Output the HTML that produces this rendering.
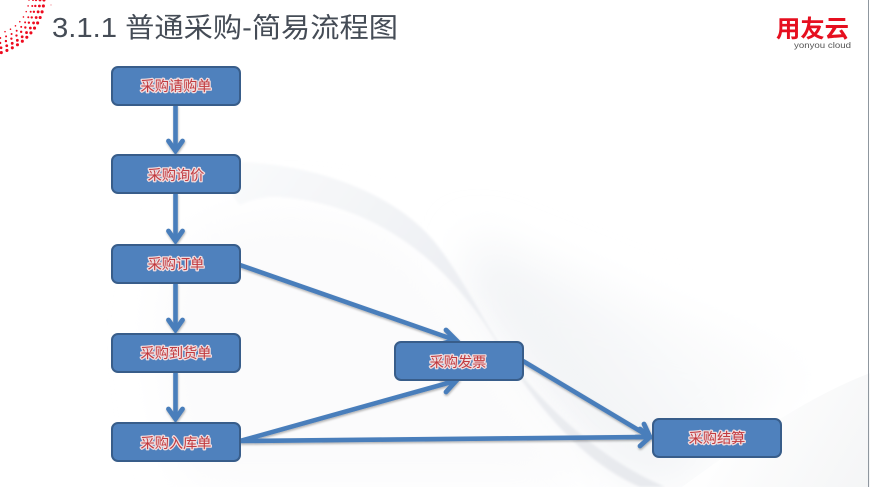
<!DOCTYPE html>
<html lang="zh">
<head>
<meta charset="utf-8">
<title>普通采购-简易流程图</title>
<style>
html,body{margin:0;padding:0;background:#fff}
body{width:870px;height:487px;overflow:hidden}
svg{display:block}
.t{font-family:"Liberation Sans","Noto Sans CJK SC",sans-serif}
.lbl{font-family:"Liberation Sans","Noto Sans CJK SC",sans-serif;font-size:14.2px;fill:#c23b40;text-anchor:middle;paint-order:stroke;stroke:#f0dcde;stroke-width:2.6px;stroke-linejoin:round}
.box{fill:#4f81bd;stroke:#385d8a;stroke-width:2}
.ln{fill:none;stroke:#4a7ebb;stroke-width:4.6;stroke-linecap:butt}
.hd{fill:none;stroke:#4a7ebb;stroke-width:4.8;stroke-linecap:round;stroke-linejoin:miter}
.dot{fill:none;stroke:#ee0a1e;stroke-linecap:round;stroke-dasharray:0 6}
</style>
</head>
<body>
<svg width="870" height="487" viewBox="0 0 870 487" xmlns="http://www.w3.org/2000/svg">
<defs>
<linearGradient id="fade" gradientUnits="userSpaceOnUse" x1="480" y1="340" x2="680" y2="180"><stop offset="0" stop-color="#eff1f4"/><stop offset="0.5" stop-color="#f8f9fa"/><stop offset="1" stop-color="#fff"/></linearGradient>
<linearGradient id="band" gradientUnits="userSpaceOnUse" x1="240" y1="170" x2="620" y2="470"><stop offset="0" stop-color="#f9fafb"/><stop offset="0.55" stop-color="#eceef2"/><stop offset="1" stop-color="#e8eaee"/></linearGradient>
<linearGradient id="corner" gradientUnits="userSpaceOnUse" x1="740" y1="410" x2="870" y2="487"><stop offset="0" stop-color="#fefefe"/><stop offset="1" stop-color="#f4f5f6"/></linearGradient>
<filter id="sh" x="-10%" y="-10%" width="120%" height="130%"><feDropShadow dx="0.5" dy="1.5" stdDeviation="1.1" flood-color="#000" flood-opacity="0.3"/></filter>
<filter id="soft" x="-5%" y="-5%" width="110%" height="110%"><feGaussianBlur stdDeviation="1.2"/></filter>
<filter id="wide" x="-30%" y="-30%" width="160%" height="160%"><feGaussianBlur stdDeviation="22"/></filter>
</defs>
<rect width="870" height="487" fill="#fff"/>
<path d="M470 235C560 270 700 330 830 370C770 400 730 440 690 487H640C570 440 520 370 470 300Z" fill="url(#fade)" filter="url(#wide)"/>
<path d="M170 260C220 200 330 200 400 240C460 290 520 420 610 487H190C160 420 150 320 170 260Z" fill="#fbfbfc" filter="url(#wide)"/>
<path d="M240 162C320 165 395 195 433 240C470 285 490 340 530 385C570 430 615 465 665 487H640C590 465 545 420 497 343C450 265 380 205 280 197C265 196 250 200 240 205C225 190 225 170 240 162Z" fill="url(#band)" filter="url(#soft)"/>
<path d="M682 487C740 445 800 400 870 373V487Z" fill="url(#corner)"/>
<rect x="868" y="0" width="1" height="487" fill="#8f979f"/>

<path class="dot" stroke-width="1.6" d="M29 0C28 16 16 30 0 33"/>
<path class="dot" stroke-width="2" d="M33 0C32 18 20 34 0 38"/>
<path class="dot" stroke-width="2.4" d="M36 0C35 19 23 37 0 43"/>
<path class="dot" stroke-width="2.8" d="M40 0C39 21 26 41 0 48"/>
<path class="dot" stroke-width="3.1" d="M44 0C43 22 28 44 0 53"/>
<circle cx="51" cy="5" r="0.7" fill="#f3a0a8"/>

<text class="t" x="52" y="37" font-size="27.5" fill="#454c56" textLength="346" lengthAdjust="spacingAndGlyphs">3.1.1 普通采购-简易流程图</text>

<text class="t" x="776" y="37" font-size="24" font-weight="700" fill="#e60f1f" textLength="73" lengthAdjust="spacingAndGlyphs">用友云</text>
<text class="t" x="794" y="48" font-size="8.5" fill="#555" textLength="57" lengthAdjust="spacingAndGlyphs">yonyou cloud</text>

<g filter="url(#sh)">
<path class="ln" d="M175.5 105V151"/><path class="hd" d="M168.5 141L175.5 151L182.5 141"/>
<path class="ln" d="M175.5 193V241"/><path class="hd" d="M168.5 231L175.5 241L182.5 231"/>
<path class="ln" d="M175.5 283V330"/><path class="hd" d="M168.5 320L175.5 330L182.5 320"/>
<path class="ln" d="M175.5 372V419"/><path class="hd" d="M168.5 409L175.5 419L182.5 409"/>
<path class="ln" d="M240 265L455 340"/><path class="hd" d="M446 330L456 340L441 344"/>
<path class="ln" d="M240 441L455 381"/><path class="hd" d="M441 378L456 381L446 392"/>
<path class="ln" d="M240 441L650 437"/><path class="hd" d="M640 429L650 437L640 446"/>
<path class="ln" d="M523 361L650 437"/><path class="hd" d="M644 424L650 437L636 437"/>
</g>

<rect class="box" x="112" y="67" width="128" height="38" rx="6"/>
<rect class="box" x="112" y="155" width="128" height="38" rx="6"/>
<rect class="box" x="112" y="245" width="128" height="38" rx="6"/>
<rect class="box" x="112" y="334" width="128" height="38" rx="6"/>
<rect class="box" x="112" y="423" width="128" height="38" rx="6"/>
<rect class="box" x="395" y="342" width="128" height="38" rx="6"/>
<rect class="box" x="653" y="419" width="128" height="38" rx="6"/>

<text class="lbl" x="176" y="91">采购请购单</text>
<text class="lbl" x="176" y="180">采购询价</text>
<text class="lbl" x="176" y="269">采购订单</text>
<text class="lbl" x="176" y="358">采购到货单</text>
<text class="lbl" x="176" y="448">采购入库单</text>
<text class="lbl" x="458" y="367">采购发票</text>
<text class="lbl" x="717" y="443">采购结算</text>
</svg>
</body>
</html>
